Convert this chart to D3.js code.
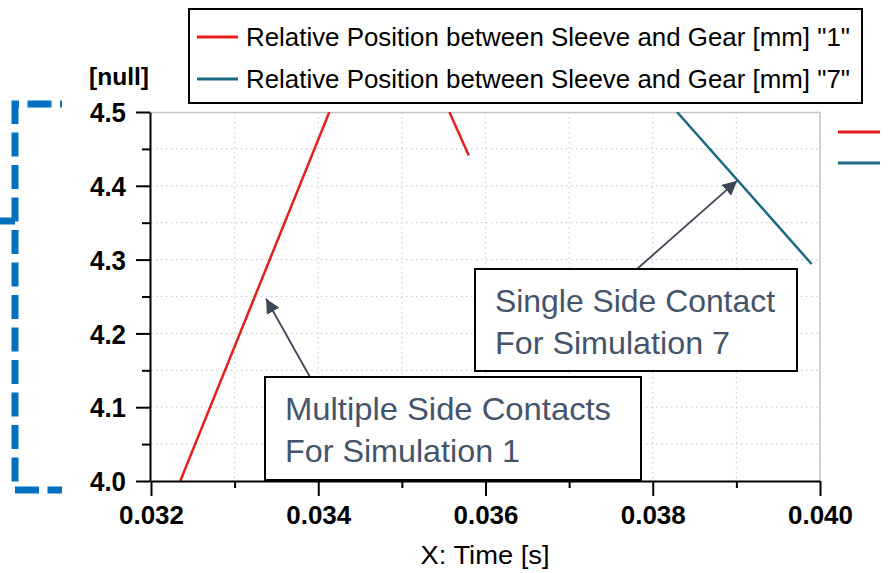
<!DOCTYPE html>
<html>
<head>
<meta charset="utf-8">
<script src="https://cdn.jsdelivr.net/npm/d3@7"></script>
<style>
	body { margin: 0; background: #fff; }
	text { font-family: "Liberation Sans", Arial, sans-serif; }
</style>
</head>
<body>
<svg id="chart" width="892" height="573"></svg>
<script>
// series
const seriesNames = ['Relative Position between Sleeve and Gear [mm] "1"', 'Relative Position between Sleeve and Gear [mm] "7"'];
const seriesColors = ["#e3211c", "#1b6a82"];
const sim1A = [[0.03235, 4.0], [0.034133, 4.5]];
const sim1B = [[0.035568, 4.5], [0.0358, 4.441]];
const sim7 = [[0.03829, 4.5], [0.0399, 4.294]];
const xTicks = [0.032, 0.034, 0.036, 0.038, 0.040];
const yTicks = [4.0, 4.1, 4.2, 4.3, 4.4, 4.5];
const notes = [
	{lines: ["Multiple Side Contacts", "For Simulation 1"], tip: [0.033376, 4.247]},
	{lines: ["Single Side Contact", "For Simulation 7"], tip: [0.03901, 4.407]}
];

const svg = d3.select("#chart");
const margin = {left: 151, top: 112, right: 72, bottom: 92};
const width = 892 - margin.left - margin.right;
const height = 573 - margin.top - margin.bottom;

const x = d3.scaleLinear().domain([0.032, 0.040]).range([0, width]);
const y = d3.scaleLinear().domain([4.0, 4.5]).range([height, 0]);

const g = svg.append("g").attr("transform", `translate(${margin.left},${margin.top})`);

// grid
g.append("g")
	.selectAll("line")
	.data(d3.range(1, 9).map(i => 0.032 + i * 0.001))
	.enter().append("line")
	.attr("x1", d => x(d)).attr("x2", d => x(d))
	.attr("y1", 0).attr("y2", height)
	.attr("stroke", "#cfcfcf").attr("stroke-width", 1.2)
	.attr("stroke-dasharray", "1.5 3.5");
g.append("g")
	.selectAll("line")
	.data(d3.range(1, 10).map(i => 4.0 + i * 0.05))
	.enter().append("line")
	.attr("x1", 0).attr("x2", width)
	.attr("y1", d => y(d)).attr("y2", d => y(d))
	.attr("stroke", "#cfcfcf").attr("stroke-width", 1.2)
	.attr("stroke-dasharray", "1.5 3.5");

// frame top / right
g.append("path")
	.attr("d", `M0,0.5H${width}V${height}`)
	.attr("fill", "none").attr("stroke", "#c4c4c4").attr("stroke-width", 1.5);

// lines
svg.append("clipPath").attr("id", "plot")
	.append("rect").attr("width", width).attr("height", height);
const line = d3.line().x(d => x(d[0])).y(d => y(d[1]));
const series = [
	{data: sim1A, color: seriesColors[0]},
	{data: sim1B, color: seriesColors[0]},
	{data: sim7, color: seriesColors[1]}
];
g.append("g").attr("clip-path", "url(#plot)")
	.selectAll("path")
	.data(series)
	.enter().append("path")
	.attr("d", d => line(d.data))
	.attr("fill", "none")
	.attr("stroke", d => d.color)
	.attr("stroke-width", 2.5);

// axes
const xAxis = g.append("g").attr("transform", `translate(0,${height})`)
	.call(d3.axisBottom(x).tickValues(xTicks).tickFormat(d3.format(".3f")).tickSize(15).tickSizeOuter(0));
g.append("g").attr("transform", `translate(0,${height})`)
	.call(d3.axisBottom(x).tickValues(d3.range(0, 4).map(i => 0.033 + i * 0.002)).tickFormat("").tickSize(7).tickSizeOuter(0))
	.select(".domain").remove();
const yAxis = g.append("g").attr("transform", "translate(-1,0)")
	.call(d3.axisLeft(y).tickValues(yTicks).tickFormat(d3.format(".1f")).tickSize(14).tickSizeOuter(0));
g.append("g").attr("transform", "translate(-1,0)")
	.call(d3.axisLeft(y).tickValues(d3.range(0, 5).map(i => 4.05 + i * 0.1)).tickFormat("").tickSize(8).tickSizeOuter(0))
	.select(".domain").remove();

g.selectAll(".domain, .tick line").attr("stroke", "#000").attr("stroke-width", 2);
xAxis.selectAll(".tick text")
	.attr("y", 25).attr("dy", "0.71em")
	.style("font-size", "26px").style("font-weight", "bold").attr("fill", "#000")
	.attr("textLength", 65).attr("lengthAdjust", "spacingAndGlyphs");
yAxis.selectAll(".tick text")
	.attr("x", -24).attr("dy", "0.36em")
	.style("font-size", "27px").style("font-weight", "bold").attr("fill", "#000")
	.attr("textLength", 36).attr("lengthAdjust", "spacingAndGlyphs");

svg.append("text")
	.attr("x", 119).attr("y", 85)
	.attr("text-anchor", "middle")
	.style("font-size", "24px").style("font-weight", "bold")
	.attr("textLength", 60).attr("lengthAdjust", "spacingAndGlyphs")
	.text("[null]");

svg.append("text")
	.attr("x", 485).attr("y", 564)
	.attr("text-anchor", "middle")
	.style("font-size", "25px")
	.attr("textLength", 129).attr("lengthAdjust", "spacingAndGlyphs")
	.text("X: Time [s]");

// annotations
const boxes = [
	{x: 265, y: 377, w: 376, h: 103, tail: [310, 377], widths: [326, 235]},
	{x: 475, y: 269, w: 322, h: 102, tail: [637, 269], widths: [280, 235]}
];
svg.append("defs").append("marker")
	.attr("id", "head").attr("viewBox", "0 0 10 10")
	.attr("refX", 10).attr("refY", 5)
	.attr("markerWidth", 8).attr("markerHeight", 8)
	.attr("markerUnits", "strokeWidth")
	.attr("orient", "auto")
	.append("path").attr("d", "M0,0L10,5L0,10Z").attr("fill", "#3d4757");

notes.forEach((n, i) => {
	const b = boxes[i];
	svg.append("line")
		.attr("x1", b.tail[0]).attr("y1", b.tail[1])
		.attr("x2", margin.left + x(n.tip[0])).attr("y2", margin.top + y(n.tip[1]))
		.attr("stroke", "#3d4757").attr("stroke-width", 1.8)
		.attr("marker-end", "url(#head)");
	svg.append("rect")
		.attr("x", b.x).attr("y", b.y).attr("width", b.w).attr("height", b.h)
		.attr("fill", "#fff").attr("stroke", "#000").attr("stroke-width", 2);
	svg.append("g").selectAll("text")
		.data(n.lines)
		.enter().append("text")
		.attr("x", b.x + 20)
		.attr("y", (d, j) => b.y + 43 + j * 42)
		.attr("fill", "#44546a")
		.style("font-size", "32px")
		.attr("textLength", (d, j) => b.widths[j])
		.attr("lengthAdjust", "spacingAndGlyphs")
		.text(d => d);
});

// legend
const legend = svg.append("g");
legend.append("rect")
	.attr("x", 189).attr("y", 9).attr("width", 673).attr("height", 94)
	.attr("fill", "#fff").attr("stroke", "#000").attr("stroke-width", 2);
seriesNames.forEach((name, i) => {
	const ly = 37 + i * 42;
	legend.append("line")
		.attr("x1", 197).attr("x2", 238).attr("y1", ly).attr("y2", ly)
		.attr("stroke", seriesColors[i]).attr("stroke-width", 3);
	legend.append("text")
		.attr("x", 246).attr("y", ly).attr("dy", "0.36em")
		.style("font-size", "26px")
		.attr("textLength", 604).attr("lengthAdjust", "spacingAndGlyphs")
		.text(name);
});

// cut-off second legend at the right edge
seriesColors.forEach((c, i) => {
	svg.append("line")
		.attr("x1", 838).attr("x2", 880)
		.attr("y1", 132 + i * 31).attr("y2", 132 + i * 31)
		.attr("stroke", c).attr("stroke-width", 3);
});

// blue dashed bracket on the left
svg.append("path")
	.attr("d", "M62,104H15V490H62")
	.attr("fill", "none").attr("stroke", "#0070c0").attr("stroke-width", 7)
	.attr("stroke-dasharray", "24 8.5").attr("stroke-dashoffset", 22);
svg.append("line")
	.attr("x1", 0).attr("x2", 15).attr("y1", 221).attr("y2", 221)
	.attr("stroke", "#0070c0").attr("stroke-width", 7);
</script>
</body>
</html>
